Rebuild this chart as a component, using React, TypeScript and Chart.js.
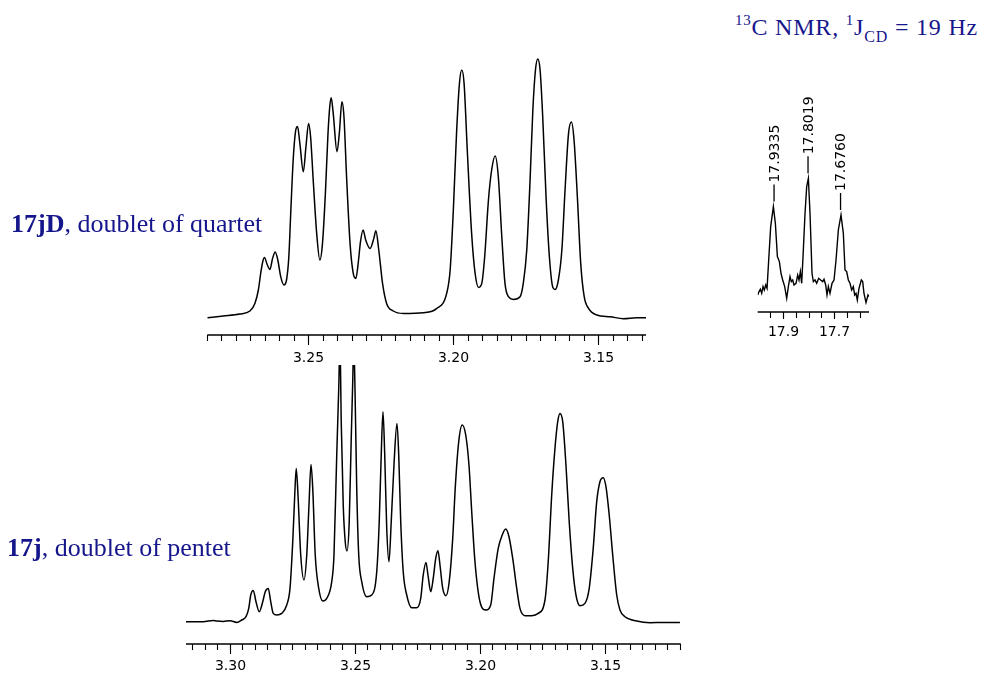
import React, { useEffect, useRef } from "react";
import { Chart, registerables } from "chart.js";
Chart.register(...registerables);

// ---- 17jD (top) 1H spectrum: chemical shift (ppm) and intensity (a.u.) ----
const topShift = [
  3.2848, 3.2793, 3.2736, 3.2701, 3.2684, 3.2672, 3.2664, 3.2657, 3.2651, 3.2641,
  3.2632, 3.2623, 3.2614, 3.2605, 3.2595, 3.2584, 3.2575, 3.2567, 3.256, 3.2552,
  3.2544, 3.2537, 3.2529, 3.2517, 3.2508, 3.2499, 3.2492, 3.2483, 3.2471, 3.246,
  3.2451, 3.2441, 3.2432, 3.2426, 3.2421, 3.2414, 3.2401, 3.2393, 3.2384, 3.2377,
  3.2368, 3.2356, 3.2345, 3.2336, 3.2328, 3.232, 3.2311, 3.2302, 3.2287, 3.2274,
  3.2267, 3.2257, 3.2244, 3.223, 3.2207, 3.2172, 3.2103, 3.2057, 3.2023, 3.2011,
  3.2, 3.1989, 3.1979, 3.1971, 3.1963, 3.1952, 3.1937, 3.1925, 3.1913, 3.1902,
  3.1892, 3.1879, 3.1868, 3.1856, 3.1845, 3.1833, 3.1822, 3.181, 3.1793, 3.177,
  3.1759, 3.1747, 3.1736, 3.1726, 3.1717, 3.1709, 3.1701, 3.1692, 3.168, 3.1669,
  3.1657, 3.1649, 3.1638, 3.1626, 3.1615, 3.1603, 3.1593, 3.1584, 3.1572, 3.1561,
  3.1549, 3.1534, 3.1506, 3.146, 3.1414, 3.1368, 3.1336,
];
const topIntensity = [
  -1.0, 0.7, 2.7, 5.7, 13.3, 26.7, 43.3, 55.0, 59.3, 51.7,
  47.3, 58.3, 64.7, 56.7, 40.0, 31.7, 36.7, 60.0, 106.7, 156.7,
  185.0, 190.3, 173.3, 145.0, 170.0, 193.3, 180.0, 136.7, 83.3, 56.7,
  73.3, 123.3, 183.3, 210.0, 219.0, 203.3, 165.0, 183.3, 215.0, 200.0,
  140.0, 73.3, 43.3, 38.3, 53.3, 75.0, 86.7, 76.7, 68.3, 78.3,
  86.0, 66.7, 33.3, 13.3, 5.7, 3.3, 4.0, 8.3, 23.3, 46.7,
  106.7, 183.3, 233.3, 246.7, 233.3, 166.7, 83.3, 43.3, 29.3, 33.3,
  60.0, 116.7, 146.7, 160.7, 140.0, 80.0, 33.3, 20.0, 17.3, 20.0,
  33.3, 66.7, 133.3, 206.7, 246.7, 257.7, 246.7, 200.0, 116.7, 60.0,
  29.3, 27.3, 36.7, 66.7, 126.7, 183.3, 194.7, 176.7, 116.7, 53.3,
  20.0, 8.3, 1.7, 0.0, -2.0, -1.0, -1.0,
];

// ---- 17j (bottom) 1H spectrum ----
const bottomShift = [
  3.3176, 3.3107, 3.3067, 3.3053, 3.3027, 3.3, 3.2973, 3.2953, 3.2936, 3.2925,
  3.2917, 3.2907, 3.2896, 3.2883, 3.2869, 3.2859, 3.2847, 3.2837, 3.2827, 3.2813,
  3.2793, 3.2773, 3.276, 3.2749, 3.2741, 3.2735, 3.2728, 3.2717, 3.2704, 3.2693,
  3.2684, 3.2676, 3.2669, 3.2659, 3.2645, 3.2629, 3.2613, 3.2593, 3.2584, 3.2573,
  3.2565, 3.256, 3.2555, 3.2547, 3.2539, 3.2532, 3.2523, 3.2515, 3.2509, 3.2505,
  3.25, 3.2493, 3.2485, 3.2473, 3.2453, 3.2433, 3.2413, 3.2403, 3.2395, 3.2388,
  3.2381, 3.2373, 3.2364, 3.2355, 3.2344, 3.2332, 3.2325, 3.2317, 3.2307, 3.2293,
  3.2273, 3.2253, 3.2237, 3.2227, 3.2216, 3.2208, 3.2197, 3.2187, 3.2177, 3.2168,
  3.216, 3.2149, 3.2136, 3.2123, 3.2109, 3.2099, 3.2085, 3.2071, 3.2057, 3.2044,
  3.2033, 3.202, 3.2, 3.1976, 3.1957, 3.1944, 3.1927, 3.1911, 3.1897, 3.1884,
  3.1869, 3.1853, 3.184, 3.182, 3.1793, 3.1767, 3.174, 3.1727, 3.1713, 3.17,
  3.1689, 3.168, 3.1669, 3.1656, 3.1643, 3.1629, 3.1616, 3.16, 3.158, 3.1563,
  3.1547, 3.1533, 3.152, 3.1507, 3.1496, 3.1483, 3.1469, 3.1453, 3.144, 3.142,
  3.1373, 3.132, 3.1267, 3.12,
];
const bottomIntensity = [
  0.0, 0.0, 1.3, 0.7, 0.3, 1.0, -0.7, 1.7, 5.0, 13.3,
  26.7, 31.3, 20.0, 10.0, 20.0, 30.0, 33.3, 20.0, 8.3, 6.7,
  8.3, 16.7, 33.3, 80.0, 126.7, 153.3, 126.7, 66.7, 41.7, 66.7,
  116.7, 157.3, 133.3, 66.7, 33.3, 20.7, 23.3, 40.0, 66.7, 166.7,
  233.3, 280.0, 200.0, 116.7, 80.0, 70.7, 100.0, 183.3, 240.0, 280.0,
  233.3, 133.3, 66.7, 40.0, 25.0, 26.7, 50.0, 100.0, 166.7, 210.0,
  166.7, 93.3, 60.0, 100.0, 156.7, 198.3, 166.7, 100.0, 50.0, 26.7,
  14.0, 14.0, 23.3, 46.7, 59.3, 46.7, 30.0, 43.3, 63.3, 71.0,
  56.7, 33.3, 26.0, 40.0, 83.3, 133.3, 180.0, 196.7, 186.7, 156.7,
  110.0, 60.0, 20.0, 11.7, 16.7, 43.3, 73.3, 86.7, 92.7, 85.0,
  63.3, 33.3, 13.3, 6.0, 6.0, 8.3, 21.7, 60.0, 126.7, 173.3,
  200.0, 208.3, 200.0, 156.7, 100.0, 53.3, 26.7, 16.0, 18.3, 33.3,
  73.3, 120.0, 140.0, 144.0, 135.0, 106.7, 66.7, 26.7, 11.7, 5.0,
  0.7, -1.0, -0.7, -0.7,
];

// ---- 13C NMR inset ----
const carbonShift = [
  17.9968, 17.9916, 17.9865, 17.9813, 17.9761, 17.971, 17.9658, 17.9606, 17.9542, 17.9465,
  17.9361, 17.9284, 17.9206, 17.9129, 17.9065, 17.9, 17.8923, 17.8845, 17.8781, 17.8716,
  17.8665, 17.8613, 17.8561, 17.8484, 17.8419, 17.8368, 17.8316, 17.8265, 17.8213, 17.8135,
  17.8071, 17.8006, 17.7942, 17.7865, 17.7813, 17.7748, 17.7684, 17.7606, 17.7529, 17.7452,
  17.74, 17.7335, 17.7284, 17.7232, 17.7168, 17.709, 17.7013, 17.6935, 17.6845, 17.6742,
  17.6652, 17.6587, 17.6523, 17.6458, 17.6394, 17.6329, 17.6265, 17.6213, 17.6161, 17.611,
  17.6045, 17.5955, 17.5903, 17.5852, 17.5774, 17.5697, 17.5658,
];
const carbonIntensity = [
  -1.7, 1.7, 4.0, 0.0, 6.7, 3.3, 8.3, 5.0, 33.3, 66.7,
  86.7, 70.0, 36.7, 31.7, 20.0, 13.3, 6.7, -5.0, 6.7, 16.7,
  11.7, 13.3, 8.3, 10.0, 18.3, 13.3, 21.7, 10.0, 36.7, 80.0,
  106.7, 115.0, 80.0, 20.0, 11.7, 13.3, 10.0, 15.0, 13.3, 11.7,
  14.0, 8.3, -1.7, 6.7, 0.0, 10.0, 13.3, 33.3, 63.3, 78.3,
  60.0, 23.3, 21.7, 13.3, 10.0, 3.3, 6.7, -1.7, 0.0, -6.7,
  5.0, 13.3, 11.7, 0.0, -9.3, -1.7, -3.3,
];

const topTickLabels = ["3.25", "3.20", "3.15"];
const bottomTickLabels = ["3.30", "3.25", "3.20", "3.15"];
const carbonTickLabels = ["17.9", "17.7"];
const carbonPeakLabels = ["17.9335", "17.8019", "17.6760"];

const NAVY = "#16168c";
const TICK_FONT = "14px 'DejaVu Sans', sans-serif";

type PanelProps = {
  left: number;
  top: number;
  width: number;
  height: number;
  pad: { left: number; right: number; top: number; bottom: number };
  xs: number[];
  ys: number[];
  xMin: number;
  xMax: number;
  yMin: number;
  yMax: number;
  labels: string[];
  minorStart: number;
  minorStep: number;
  minorCount: number;
  minorLen: number;
  majorLen: number;
  labelOffset: number;
  lineWidth: number;
  smooth: boolean;
  peakLabels?: string[];
};

function Panel(p: PanelProps) {
  const ref = useRef<HTMLCanvasElement | null>(null);
  useEffect(() => {
    if (!ref.current) return;
    const axisPlugin = {
      id: "nmrAxis",
      afterDraw(chart: any) {
        const ctx = chart.ctx;
        const area = chart.chartArea;
        const xs = chart.scales.x;
        const y0 = area.bottom;
        ctx.save();
        ctx.strokeStyle = "#000";
        ctx.lineWidth = 1.3;
        ctx.beginPath();
        ctx.moveTo(area.left, y0);
        ctx.lineTo(area.right, y0);
        ctx.stroke();
        ctx.lineWidth = 1.1;
        for (let i = 0; i <= p.minorCount; i++) {
          const v = p.minorStart - i * p.minorStep;
          const px = Math.round(xs.getPixelForValue(v)) + 0.5;
          if (px < area.left - 1 || px > area.right + 1) continue;
          ctx.beginPath();
          ctx.moveTo(px, y0);
          ctx.lineTo(px, y0 + p.minorLen);
          ctx.stroke();
        }
        ctx.fillStyle = "#000";
        ctx.font = TICK_FONT;
        ctx.textAlign = "center";
        ctx.textBaseline = "alphabetic";
        for (const lab of p.labels) {
          const v = parseFloat(lab);
          const px = Math.round(xs.getPixelForValue(v)) + 0.5;
          ctx.beginPath();
          ctx.moveTo(px, y0);
          ctx.lineTo(px, y0 + p.majorLen);
          ctx.stroke();
          ctx.fillText(lab, px, y0 + p.labelOffset);
        }
        if (p.peakLabels) {
          const ysc = chart.scales.y;
          ctx.font = "14px 'DejaVu Sans', sans-serif";
          ctx.lineWidth = 1.3;
          for (const lab of p.peakLabels) {
            const v = parseFloat(lab);
            let best = -Infinity;
            for (let i = 0; i < p.xs.length; i++) {
              if (Math.abs(p.xs[i] - v) < 0.012 && p.ys[i] > best) best = p.ys[i];
            }
            const px = xs.getPixelForValue(v);
            const py = ysc.getPixelForValue(best);
            ctx.beginPath();
            ctx.moveTo(px, py - 5);
            ctx.lineTo(px, py - 22);
            ctx.stroke();
            ctx.save();
            ctx.translate(px + 1, py - 24);
            ctx.rotate(-Math.PI / 2);
            ctx.textAlign = "left";
            ctx.textBaseline = "middle";
            ctx.fillText(lab, 0, 0);
            ctx.restore();
          }
        }
        ctx.restore();
      },
    };
    const chart = new Chart(ref.current, {
      type: "line",
      data: {
        datasets: [
          {
            data: p.xs.map((x, i) => ({ x, y: p.ys[i] })),
            borderColor: "#000",
            borderWidth: p.lineWidth,
            pointRadius: 0,
            fill: false,
            cubicInterpolationMode: p.smooth ? "monotone" : "default",
            tension: 0,
          },
        ],
      },
      options: {
        responsive: false,
        animation: false,
        devicePixelRatio: 1,
        layout: { padding: p.pad },
        plugins: { legend: { display: false }, tooltip: { enabled: false } },
        events: [],
        scales: {
          x: { type: "linear", reverse: true, min: p.xMin, max: p.xMax, display: false },
          y: { type: "linear", min: p.yMin, max: p.yMax, display: false },
        },
      },
      plugins: [axisPlugin],
    } as any);
    return () => chart.destroy();
  }, []);
  return (
    <canvas
      ref={ref}
      width={p.width}
      height={p.height}
      style={{ position: "absolute", left: p.left, top: p.top, width: p.width, height: p.height }}
    />
  );
}

export default function App() {
  const serif = "'Liberation Serif', 'Times New Roman', serif";
  return (
    <div style={{ position: "absolute", left: 0, top: 0, width: 984, height: 673, background: "#fff", overflow: "hidden" }}>
      <Panel
        left={190}
        top={40}
        width={480}
        height={340}
        pad={{ left: 17.3, right: 24, top: 10, bottom: 45 }}
        xs={topShift}
        ys={topIntensity}
        xMin={3.1336}
        xMax={3.2848}
        yMin={-18.3}
        yMax={266.7}
        labels={topTickLabels}
        minorStart={3.285}
        minorStep={0.005}
        minorCount={30}
        minorLen={6}
        majorLen={10}
        labelOffset={26.5}
        lineWidth={1.5}
        smooth={true}
      />
      <Panel
        left={170}
        top={355}
        width={530}
        height={318}
        pad={{ left: 16, right: 19.3, top: 10, bottom: 29 }}
        xs={bottomShift}
        ys={bottomIntensity}
        xMin={3.1197}
        xMax={3.3176}
        yMin={-22.3}
        yMax={256.7}
        labels={bottomTickLabels}
        minorStart={3.315}
        minorStep={0.005}
        minorCount={39}
        minorLen={6}
        majorLen={10}
        labelOffset={26}
        lineWidth={1.5}
        smooth={true}
      />
      <Panel
        left={740}
        top={80}
        width={145}
        height={260}
        pad={{ left: 17.7, right: 16, top: 10, bottom: 28 }}
        xs={carbonShift}
        ys={carbonIntensity}
        xMin={17.5658}
        xMax={17.9968}
        yMin={-18.7}
        yMax={203.3}
        labels={carbonTickLabels}
        minorStart={17.95}
        minorStep={0.05}
        minorCount={7}
        minorLen={6}
        majorLen={7}
        labelOffset={24}
        lineWidth={1.4}
        smooth={false}
        peakLabels={carbonPeakLabels}
      />
      <div
        style={{ position: "absolute", left: 11, top: 211, fontFamily: serif, fontSize: 26, lineHeight: "26px", color: NAVY, whiteSpace: "nowrap" }}
      >
        <b>17jD</b>, doublet of quartet
      </div>
      <div
        style={{ position: "absolute", left: 7, top: 535, fontFamily: serif, fontSize: 26, lineHeight: "26px", color: NAVY, whiteSpace: "nowrap" }}
      >
        <b>17j</b>, doublet of pentet
      </div>
      <div
        style={{ position: "absolute", left: 0, width: 978, top: 15, textAlign: "right", fontFamily: serif, fontSize: 24, lineHeight: "24px", letterSpacing: "0.8px", color: NAVY, whiteSpace: "nowrap" }}
      >
        <span style={{ fontSize: 15, position: "relative", top: -10, lineHeight: "15px" }}>13</span>C NMR,{" "}
        <span style={{ fontSize: 15, position: "relative", top: -10, lineHeight: "15px" }}>1</span>J
        <span style={{ fontSize: 16, position: "relative", top: 7, lineHeight: "16px" }}>CD</span> = 19 Hz
      </div>
    </div>
  );
}
